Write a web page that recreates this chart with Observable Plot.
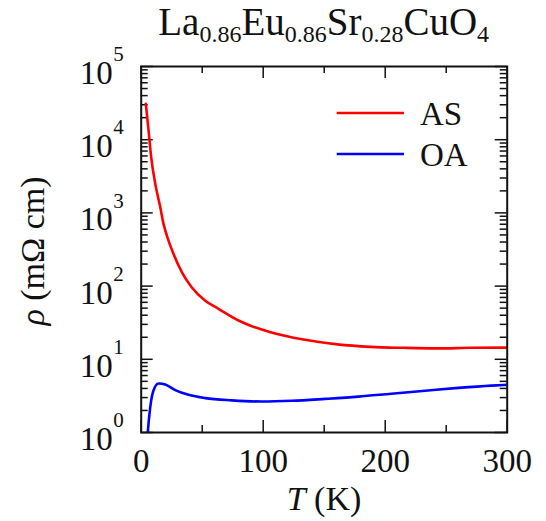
<!DOCTYPE html>
<html>
<head>
<meta charset="utf-8">
<script src="https://cdn.jsdelivr.net/npm/d3@7"></script>
<script src="https://cdn.jsdelivr.net/npm/@observablehq/plot@0.6"></script>
<style>
  body { margin: 0; background: #fff; }
  svg { display: block; }
  svg text { font-family: "Liberation Serif", "DejaVu Serif", serif; }
</style>
</head>
<body>
<div id="chart"></div>
<script>
// ---- data ----
const asT   = [3.8, 6.0, 8.2, 11.5, 15.6, 18.3, 22.4, 26.5, 33.3, 41.5, 52.5, 63.4, 79.8, 89.6, 106, 133, 160.7, 188, 215, 242.6, 270, 300];
const asRho = [30900, 13500, 5750, 2510, 1200, 708, 417, 275, 155, 95.5, 63.1, 49.0, 33.9, 28.8, 23.4, 18.6, 16.0, 14.8, 14.35, 14.1, 14.35, 14.45];
const oaT   = [5.4, 6.5, 8.2, 10.0, 14.2, 19.7, 27.9, 38.8, 52.5, 74.3, 98.9, 123.5, 150.8, 178, 205, 232.8, 260, 287, 300];
const oaRho = [1.0, 1.62, 2.75, 3.72, 4.68, 4.53, 3.80, 3.27, 2.95, 2.75, 2.65, 2.71, 2.88, 3.09, 3.39, 3.72, 4.07, 4.37, 4.47];
const seriesNames  = ["AS", "OA"];
const seriesColors = ["#ff0000", "#0000ff"];

// ---- tick values ----
const xMajor = [0, 100, 200, 300];
const xMinor = [50, 150, 250];
const yExp = [0, 1, 2, 3, 4, 5];
const yMajor = yExp.map(e => Math.pow(10, e));
const yMinorMult = [2, 3, 4, 5, 6, 7, 8, 9];
const yMinor = yMajor.slice(0, -1).flatMap(d => yMinorMult.map(m => m * d));

const rows = [
  ...asT.map((t, i) => ({T: t, rho: asRho[i], s: seriesNames[0]})),
  ...oaT.map((t, i) => ({T: t, rho: oaRho[i], s: seriesNames[1]}))
];

const W = 546, H = 521;
const mL = 140.7, mR = 39.3, mT = 66, mB = 89;
const frameW = W - mL - mR, frameH = H - mT - mB;
const majLen = 12, minLen = 7;
const font = '"Liberation Serif", "DejaVu Serif", serif';
const tickStroke = {stroke: "#111", strokeWidth: 1.5};

const svg = Plot.plot({
  width: W, height: H,
  marginLeft: mL, marginRight: mR, marginTop: mT, marginBottom: mB,
  style: {fontFamily: font, background: "#fff", color: "#111"},
  x: {domain: [0, 300], axis: null},
  y: {type: "log", domain: [1, 1e5], axis: null},
  color: {domain: seriesNames, range: seriesColors},
  marks: [
    // ticks, pointing inward on all four sides
    Plot.tickX(xMajor, {x: d => d, insetTop: frameH - majLen, ...tickStroke}),
    Plot.tickX(xMinor, {x: d => d, insetTop: frameH - minLen, ...tickStroke}),
    Plot.tickX(xMajor, {x: d => d, insetBottom: frameH - majLen, ...tickStroke}),
    Plot.tickX(xMinor, {x: d => d, insetBottom: frameH - minLen, ...tickStroke}),
    Plot.tickY(yMajor, {y: d => d, insetRight: frameW - majLen, ...tickStroke}),
    Plot.tickY(yMinor, {y: d => d, insetRight: frameW - minLen, ...tickStroke}),
    Plot.tickY(yMajor, {y: d => d, insetLeft: frameW - majLen, ...tickStroke}),
    Plot.tickY(yMinor, {y: d => d, insetLeft: frameW - minLen, ...tickStroke}),
    // curves
    Plot.line(rows, {x: "T", y: "rho", z: "s", stroke: "s", strokeWidth: 2.6, curve: "monotone-x", clip: true}),
    Plot.frame({stroke: "#111", strokeWidth: 2}),
    // x tick labels
    Plot.text(xMajor, {x: d => d, frameAnchor: "bottom", text: d => String(d), dy: 29,
      lineAnchor: "middle", fontSize: 33, fontFamily: font, fill: "#111"}),
    // y tick labels: "10" + superscript exponent
    Plot.text(yExp, {y: e => Math.pow(10, e), frameAnchor: "left", text: () => "10",
      textAnchor: "end", dx: -28.5, dy: 7, lineAnchor: "middle", fontSize: 33, fontFamily: font, fill: "#111"}),
    Plot.text(yExp, {y: e => Math.pow(10, e), frameAnchor: "left", text: e => String(e),
      textAnchor: "start", dx: -28, dy: -12, lineAnchor: "middle", fontSize: 21, fontFamily: font, fill: "#111"})
  ]
});

const s = d3.select(svg);

// title with subscripts
const title = s.append("text")
  .attr("x", mL + frameW / 2).attr("y", 35)
  .attr("text-anchor", "middle")
  .style("font-family", font).attr("font-size", 39).attr("fill", "#111");
const parts = [["La", "0.86"], ["Eu", "0.86"], ["Sr", "0.28"], ["CuO", "4"]];
parts.forEach(([main, sub], i) => {
  title.append("tspan").attr("dy", i === 0 ? 0 : -7).text(main);
  title.append("tspan").attr("dy", 7).attr("font-size", 24).text(sub);
});

// x axis label
const xl = s.append("text")
  .attr("x", 324).attr("y", 510)
  .attr("text-anchor", "middle")
  .style("font-family", font).attr("font-size", 34).attr("fill", "#111");
xl.append("tspan").attr("font-style", "italic").text("T");
xl.append("tspan").text(" (K)");

// y axis label
const yl = s.append("text")
  .attr("transform", "translate(44,251) rotate(-90)")
  .attr("text-anchor", "middle")
  .style("font-family", font).attr("font-size", 34).attr("fill", "#111");
yl.append("tspan").attr("font-style", "italic").text("ρ");
yl.append("tspan").text(" (mΩ cm)");

// legend
const legY = [113, 154];
seriesNames.forEach((name, i) => {
  s.append("line")
    .attr("x1", 336.7).attr("x2", 404).attr("y1", legY[i]).attr("y2", legY[i])
    .attr("stroke", seriesColors[i]).attr("stroke-width", 2.6);
  s.append("text")
    .attr("x", 420).attr("y", legY[i] + 12)
    .attr("text-anchor", "start")
    .style("font-family", font).attr("font-size", 33).attr("fill", "#111")
    .text(name);
});

document.getElementById("chart").appendChild(svg);
</script>
</body>
</html>
